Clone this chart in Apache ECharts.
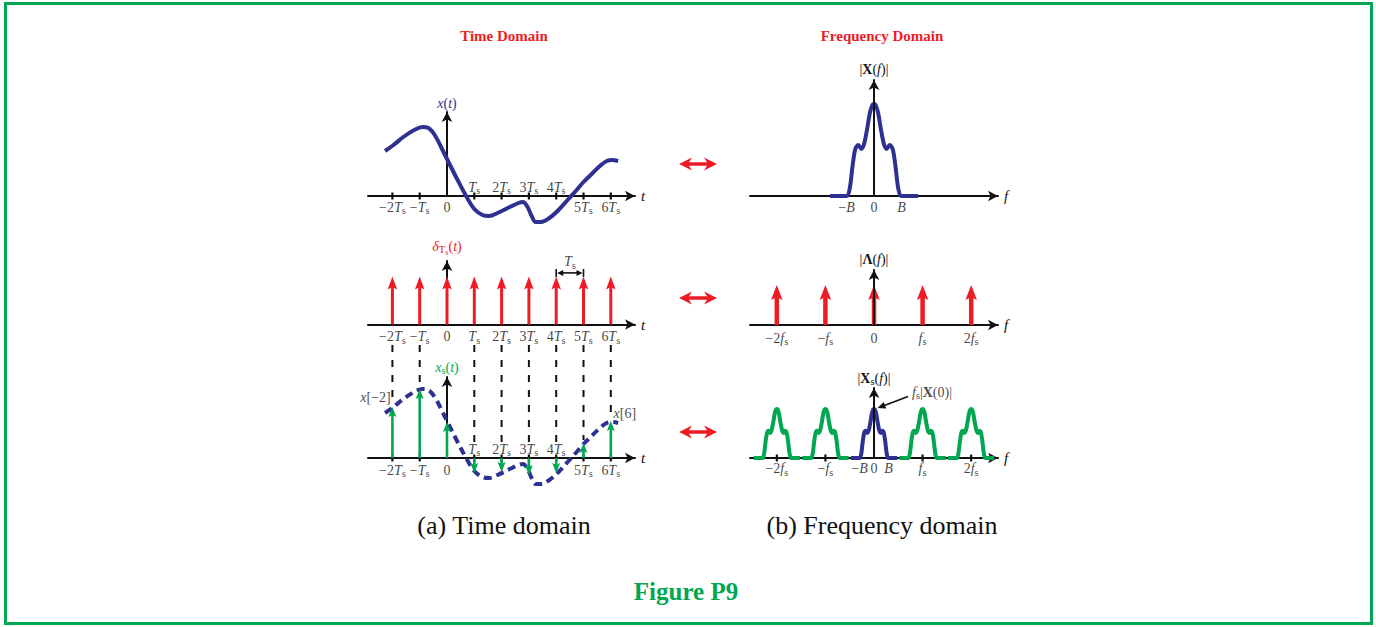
<!DOCTYPE html>
<html>
<head>
<meta charset="utf-8">
<title>Figure P9</title>
<script src="https://cdn.jsdelivr.net/npm/echarts@6.0.0/dist/echarts.min.js"></script>
<style>
html, body { margin: 0; padding: 0; background: #ffffff; }
#chart { width: 1376px; height: 627px; }
</style>
</head>
<body>
<div id="chart"></div>
<script>
// ---------------- data ----------------
const timeTicks = [-2, -1, 0, 1, 2, 3, 4, 5, 6];                 // multiples of Ts
const timeTickLabels = ['−2Ts', '−Ts', '0', 'Ts', '2Ts', '3Ts', '4Ts', '5Ts', '6Ts'];
// continuous signal x(t): [t / Ts, amplitude]
const xCurve = [[-2.27,45],[-1.96,51],[-1.6,59],[-1.2,66],[-0.9,69],[-0.68,68],[-0.45,61],[-0.2,48],[0,37],
  [0.35,18],[0.7,0],[1.0,-13],[1.3,-19],[1.55,-20],[1.85,-17],[2.3,-11],[2.62,-7],[2.78,-6],[2.95,-11],
  [3.1,-20],[3.25,-26],[3.45,-26],[3.75,-22],[4.05,-15],[4.45,-3],[4.75,6],[5.0,14],[5.3,22],[5.6,30],
  [5.85,35],[6.05,36],[6.27,35]];
const xSamples = [51, 69, 36, -15, -14, -17, -15, 15, 37];         // x[n] at n = timeTicks
const combWeight = 1;                                              // impulse train weight
// magnitude spectrum |X(f)|: [f / B, magnitude]
const spectrumShape = [[-1.6,0],[-1.0,0],[-0.88,8],[-0.78,30],[-0.68,47],[-0.57,51],[-0.46,47],[-0.36,52],
  [-0.25,67],[-0.15,83],[-0.06,91],[0,92],[0.06,91],[0.15,83],[0.25,67],[0.36,52],[0.46,47],[0.57,51],
  [0.68,47],[0.78,30],[0.88,8],[1.0,0],[1.6,0]];
const bandTicks = [-1, 0, 1];
const bandTickLabels = ['−B', '0', 'B'];
const combTicks = [-2, -1, 0, 1, 2];                               // multiples of fs
const combTickLabels = ['−2fs', '−fs', '0', 'fs', '2fs'];
const fsOverB = 3.35;                                              // fs in units of B (bottom panel)
const replicaOrders = [-2, -1, 0, 1, 2];
const sampledTickLabels = ['−2fs', '−fs', '−B', '0', 'B', 'fs', '2fs'];
const sampledTickValues = [-2 * fsOverB, -fsOverB, -1, 0, 1, fsOverB, 2 * fsOverB];

// ---------------- styling ----------------
const SERIF = '"Liberation Serif", "DejaVu Serif", serif';
const BLUE = '#2E3192', RED = '#ED1C24', GREEN = '#00A651', INK = '#111111';

function rich(color, size) {
  size = size || 14;
  const base = { fontFamily: SERIF, color: color, textBorderWidth: 0, textShadowBlur: 0 };
  return {
    n: Object.assign({}, base, { fontSize: size }),
    i: Object.assign({}, base, { fontSize: size, fontStyle: 'italic' }),
    b: Object.assign({}, base, { fontSize: size, fontWeight: 'bold' }),
    s: Object.assign({}, base, { fontSize: size * 0.75, padding: [7, 0, 0, 0] }),
    ss: Object.assign({}, base, { fontSize: size * 0.6, padding: [12, 0, 0, 0] })
  };
}
function richLabel(s) {
  let out = '', buf = '';
  const flush = () => { if (buf) { out += '{n|' + buf + '}'; buf = ''; } };
  for (let i = 0; i < s.length; i++) {
    const two = s.slice(i, i + 2);
    if (two === 'Ts' || two === 'fs') { flush(); out += '{i|' + two[0] + '}{s|s}'; i++; }
    else if (s[i] === 'B') { flush(); out += '{i|B}'; }
    else buf += s[i];
  }
  flush();
  return out;
}

// ---------------- panel layout ----------------
const T_LEFT = 368, T_END = 635, T_ZERO = 447, T_UNIT = 27.3;
const F_LEFT = 750, F_END = 998, F_ZERO = 874;
const panels = [
  { left: T_LEFT, end: T_END, zero: T_ZERO, unit: T_UNIT, top: 112, axisY: 196, yMax: 84, name: '{i|x}{n|(}{i|t}{n|)}', nameColor: BLUE, nameGap: 2, xName: 't' },
  { left: T_LEFT, end: T_END, zero: T_ZERO, unit: T_UNIT, top: 261, axisY: 324.5, yMax: 63.5 / 48, name: '{i|δ}{s|T}{ss|s}{n|(}{i|t}{n|)}', nameColor: RED, nameGap: 5, xName: 't' },
  { left: T_LEFT, end: T_END, zero: T_ZERO, unit: T_UNIT, top: 377, axisY: 458, yMax: 81, name: '{i|x}{s|s}{n|(}{i|t}{n|)}', nameColor: GREEN, nameGap: 1, xName: 't' },
  { left: F_LEFT, end: F_END, zero: F_ZERO, unit: 27.5, top: 80, axisY: 196, yMax: 116, name: '{n||}{b|X}{n|(}{i|f}{n|)|}', nameColor: INK, nameGap: 4, xName: 'f', yTop: true },
  { left: F_LEFT, end: F_END, zero: F_ZERO, unit: 48.6, top: 270, axisY: 325, yMax: 55 / 40, name: '{n||}{b|Λ}{n|(}{i|f}{n|)|}', nameColor: INK, nameGap: 4, xName: 'f', yTop: true },
  { left: F_LEFT, end: F_END, zero: F_ZERO, unit: 14.5, top: 388, axisY: 458, yMax: 70 / (49 / 92), name: '{n||}{b|X}{s|s}{n|(}{i|f}{n|)|}', nameColor: INK, nameGap: 1, xName: 'f', yTop: true }
];

const axisLine = { show: true, symbol: ['none', 'arrow'], symbolSize: [8, 10], lineStyle: { color: INK, width: 2 } };
const grids = [], xAxes = [], yAxes = [];
panels.forEach((p, k) => {
  grids.push({ left: p.left, top: p.top, width: p.end - p.left, height: p.axisY - p.top, containLabel: false });
  xAxes.push({
    gridIndex: k, type: 'value', min: (p.left - p.zero) / p.unit, max: (p.end - p.zero) / p.unit,
    axisLine: axisLine, axisTick: { show: false }, axisLabel: { show: false }, splitLine: { show: false },
    name: p.xName, nameLocation: 'end', nameGap: 6,
    nameTextStyle: { fontFamily: SERIF, fontSize: 15, fontStyle: 'italic', color: INK, verticalAlign: 'middle' }
  });
  yAxes.push({
    gridIndex: k, type: 'value', min: 0, max: p.yMax, z: p.yTop ? 5 : 0,
    axisLine: axisLine, axisTick: { show: false }, axisLabel: { show: false }, splitLine: { show: false },
    name: p.name, nameLocation: 'end', nameGap: p.nameGap,
    nameTextStyle: { rich: rich(p.nameColor, 14), color: p.nameColor, align: 'center' }
  });
});

// ---------------- series helpers ----------------
function stemSeries(k, data, color, shaftW, headW, headL, z) {
  return {
    type: 'custom', xAxisIndex: k, yAxisIndex: k, silent: true, z: z || 4, data: data,
    renderItem: function (params, api) {
      const t = api.value(0), h = api.value(1);
      const p0 = api.coord([t, 0]), p1 = api.coord([t, h]);
      const dir = p1[1] < p0[1] ? 1 : -1;
      const back = p1[1] + dir * headL;
      const notch = p1[1] + dir * headL * 0.8;
      return { type: 'group', children: [
        { type: 'line', shape: { x1: p0[0], y1: p0[1], x2: p1[0], y2: notch }, style: { stroke: color, lineWidth: shaftW } },
        { type: 'polygon', shape: { points: [[p1[0], p1[1]], [p1[0] - headW / 2, back], [p1[0], notch], [p1[0] + headW / 2, back]] }, style: { fill: color } }
      ] };
    }
  };
}
function tickSeries(k, values) {
  return {
    type: 'custom', xAxisIndex: k, yAxisIndex: k, silent: true, z: 3, data: values.map(v => [v, 0]),
    renderItem: function (params, api) {
      const p = api.coord([api.value(0), 0]);
      return { type: 'line', shape: { x1: p[0], y1: p[1] - 3.5, x2: p[0], y2: p[1] + 3.5 }, style: { stroke: INK, lineWidth: 2.2 } };
    }
  };
}
function labelSeries(k, items, color, size) {
  return {
    type: 'scatter', xAxisIndex: k, yAxisIndex: k, silent: true, clip: false, symbolSize: 1, z: 8,
    itemStyle: { color: 'rgba(255,255,255,0)' },
    data: items.map(it => ({
      value: [it.x, it.y],
      label: { show: true, position: 'inside', offset: it.off, color: color, textBorderWidth: 0, textBorderColor: 'transparent',
        formatter: () => it.text, rich: rich(color, size) }
    }))
  };
}

const series = [];

// ----- (a) time domain -----
series.push({ type: 'line', xAxisIndex: 0, yAxisIndex: 0, data: xCurve, smooth: 0.35, showSymbol: false, clip: false, silent: true,
  lineStyle: { color: BLUE, width: 4 }, z: 2 });
series.push(tickSeries(0, timeTicks.filter(t => t !== 0)));
series.push(labelSeries(0, timeTicks.map((t, i) => ({ x: t, y: 0, text: richLabel(timeTickLabels[i]), off: [0, xSamples[i] < 0 ? -9 : 11] })), INK, 14));

series.push(stemSeries(1, timeTicks.map(t => [t, combWeight]), RED, 3, 9.5, 13));
series.push(labelSeries(1, timeTicks.map((t, i) => ({ x: t, y: 0, text: richLabel(timeTickLabels[i]), off: [0, 12] })), INK, 14));
const bracketLevel = 1.075;
series.push({
  type: 'custom', xAxisIndex: 1, yAxisIndex: 1, silent: true, z: 5, data: [[4, 5, bracketLevel]],
  renderItem: function (params, api) {
    const a = api.coord([api.value(0), api.value(2)]), b = api.coord([api.value(1), api.value(2)]);
    const y = a[1], L = 6, W = 3;
    return { type: 'group', children: [
      { type: 'line', shape: { x1: a[0] + L, y1: y, x2: b[0] - L, y2: y }, style: { stroke: INK, lineWidth: 1.6 } },
      { type: 'polygon', shape: { points: [[a[0] + 1, y], [a[0] + 1 + L, y - W], [a[0] + 1 + L, y + W]] }, style: { fill: INK } },
      { type: 'polygon', shape: { points: [[b[0] - 1, y], [b[0] - 1 - L, y - W], [b[0] - 1 - L, y + W]] }, style: { fill: INK } },
      { type: 'line', shape: { x1: a[0], y1: y - 4, x2: a[0], y2: y + 4 }, style: { stroke: INK, lineWidth: 1.6 } },
      { type: 'line', shape: { x1: b[0], y1: y - 4, x2: b[0], y2: y + 4 }, style: { stroke: INK, lineWidth: 1.6 } }
    ] };
  }
});
series.push(labelSeries(1, [{ x: 4.5, y: bracketLevel, text: richLabel('Ts'), off: [0, -11] }], INK, 14));

series.push({
  type: 'custom', xAxisIndex: 2, yAxisIndex: 2, silent: true, z: 1,
  data: timeTicks.map((t, i) => [t, xSamples[i]]).filter(d => d[0] !== 0),
  renderItem: function (params, api) {
    const t = api.value(0), h = api.value(1);
    const p = api.coord([t, Math.max(h, 12) + 3]);
    return { type: 'line', shape: { x1: p[0], y1: 345, x2: p[0], y2: p[1] }, style: { stroke: INK, lineWidth: 2, lineDash: [7, 8] } };
  }
});
series.push({ type: 'line', xAxisIndex: 2, yAxisIndex: 2, data: xCurve, smooth: 0.35, showSymbol: false, clip: false, silent: true,
  lineStyle: { color: BLUE, width: 4, type: [8, 5] }, z: 2 });
series.push(tickSeries(2, timeTicks.filter(t => t !== 0)));
series.push(stemSeries(2, timeTicks.map((t, i) => [t, xSamples[i]]), GREEN, 2.6, 8, 10, 4));
series.push(labelSeries(2, timeTicks.map((t, i) => ({ x: t, y: 0, text: richLabel(timeTickLabels[i]), off: [0, xSamples[i] < 0 ? -9 : 12] })), INK, 14));
series.push(labelSeries(2, [
  { x: timeTicks[0], y: xSamples[0], text: '{i|x}{n|[−2]}', off: [-17, -10] },
  { x: timeTicks[8], y: xSamples[8], text: '{i|x}{n|[6]}', off: [14, -8] }
], INK, 14));

// ----- (b) frequency domain -----
series.push({ type: 'line', xAxisIndex: 3, yAxisIndex: 3, data: spectrumShape, smooth: 0.3, showSymbol: false, clip: false, silent: true,
  lineStyle: { color: BLUE, width: 4 }, z: 2 });
series.push(labelSeries(3, bandTicks.map((v, i) => ({ x: v, y: 0, text: richLabel(bandTickLabels[i]), off: [0, 11] })), INK, 14));

series.push(stemSeries(4, combTicks.map(v => [v, combWeight]), RED, 4.5, 11.5, 15));
series.push(labelSeries(4, combTicks.map((v, i) => ({ x: v, y: 0, text: richLabel(combTickLabels[i]), off: [0, 13] })), INK, 14));

replicaOrders.forEach(m => {
  series.push({ type: 'line', xAxisIndex: 5, yAxisIndex: 5, data: spectrumShape.map(d => [d[0] + m * fsOverB, d[1]]),
    smooth: 0.3, showSymbol: false, clip: false, silent: true,
    lineStyle: { color: m === 0 ? BLUE : GREEN, width: 4 }, z: m === 0 ? 3 : 2 });
});
series.push(tickSeries(5, [-2 * fsOverB, -fsOverB, fsOverB, 2 * fsOverB]));
series.push(labelSeries(5, sampledTickValues.map((v, i) => ({ x: v, y: 0, text: richLabel(sampledTickLabels[i]), off: [0, 10.5] })), INK, 14));
const peakMag = Math.max.apply(null, spectrumShape.map(d => d[1]));
series.push({
  type: 'custom', xAxisIndex: 5, yAxisIndex: 5, silent: true, z: 7, data: [[0, peakMag]],
  renderItem: function (params, api) {
    const p = api.coord([api.value(0), api.value(1)]);
    const tip = [p[0] + 3.5, p[1] - 1], tail = [p[0] + 34, p[1] - 12.5];
    const ang = Math.atan2(tip[1] - tail[1], tip[0] - tail[0]);
    const L = 8, W = 3.5;
    const bx = tip[0] - L * Math.cos(ang), by = tip[1] - L * Math.sin(ang);
    const nx = -Math.sin(ang), ny = Math.cos(ang);
    return { type: 'group', children: [
      { type: 'line', shape: { x1: tail[0], y1: tail[1], x2: bx, y2: by }, style: { stroke: INK, lineWidth: 1.6 } },
      { type: 'polygon', shape: { points: [tip, [bx + nx * W, by + ny * W], [bx - nx * W, by - ny * W]] }, style: { fill: INK } }
    ] };
  }
});
series.push(labelSeries(5, [{ x: 0, y: peakMag, text: '{i|f}{s|s}{n||}{b|X}{n|(0)|}', off: [58, -17] }], INK, 14));

// ---------------- graphic: frame, titles, correspondence arrows ----------------
function dblArrow(y) {
  return { type: 'polygon', silent: true, shape: { points: [[679, y], [692, y - 6.5], [689, y - 1.7], [707, y - 1.7], [704, y - 6.5], [717, y],
    [704, y + 6.5], [707, y + 1.7], [689, y + 1.7], [692, y + 6.5]] }, style: { fill: RED } };
}
function txt(x, y, text, font, fill) {
  return { type: 'text', x: x, y: y, silent: true, style: { text: text, font: font, fill: fill, align: 'center', verticalAlign: 'middle', textAlign: 'center', textVerticalAlign: 'middle' } };
}
const graphic = [
  { type: 'rect', silent: true, shape: { x: 5.5, y: 3.5, width: 1366, height: 620 }, style: { fill: 'none', stroke: GREEN, lineWidth: 3 } },
  txt(504, 36, 'Time Domain', 'bold 15px ' + SERIF, RED),
  txt(882, 36, 'Frequency Domain', 'bold 15px ' + SERIF, RED),
  txt(504, 525, '(a) Time domain', '26px ' + SERIF, INK),
  txt(882, 525, '(b) Frequency domain', '26px ' + SERIF, INK),
  txt(686, 591, 'Figure P9', 'bold 25px ' + SERIF, GREEN),
  dblArrow(164), dblArrow(298), dblArrow(432)
];

const chart = echarts.init(document.getElementById('chart'), null, { renderer: 'svg', width: 1376, height: 627 });
chart.setOption({
  animation: false,
  backgroundColor: '#ffffff',
  grid: grids, xAxis: xAxes, yAxis: yAxes,
  series: series,
  graphic: graphic
});
</script>
</body>
</html>
